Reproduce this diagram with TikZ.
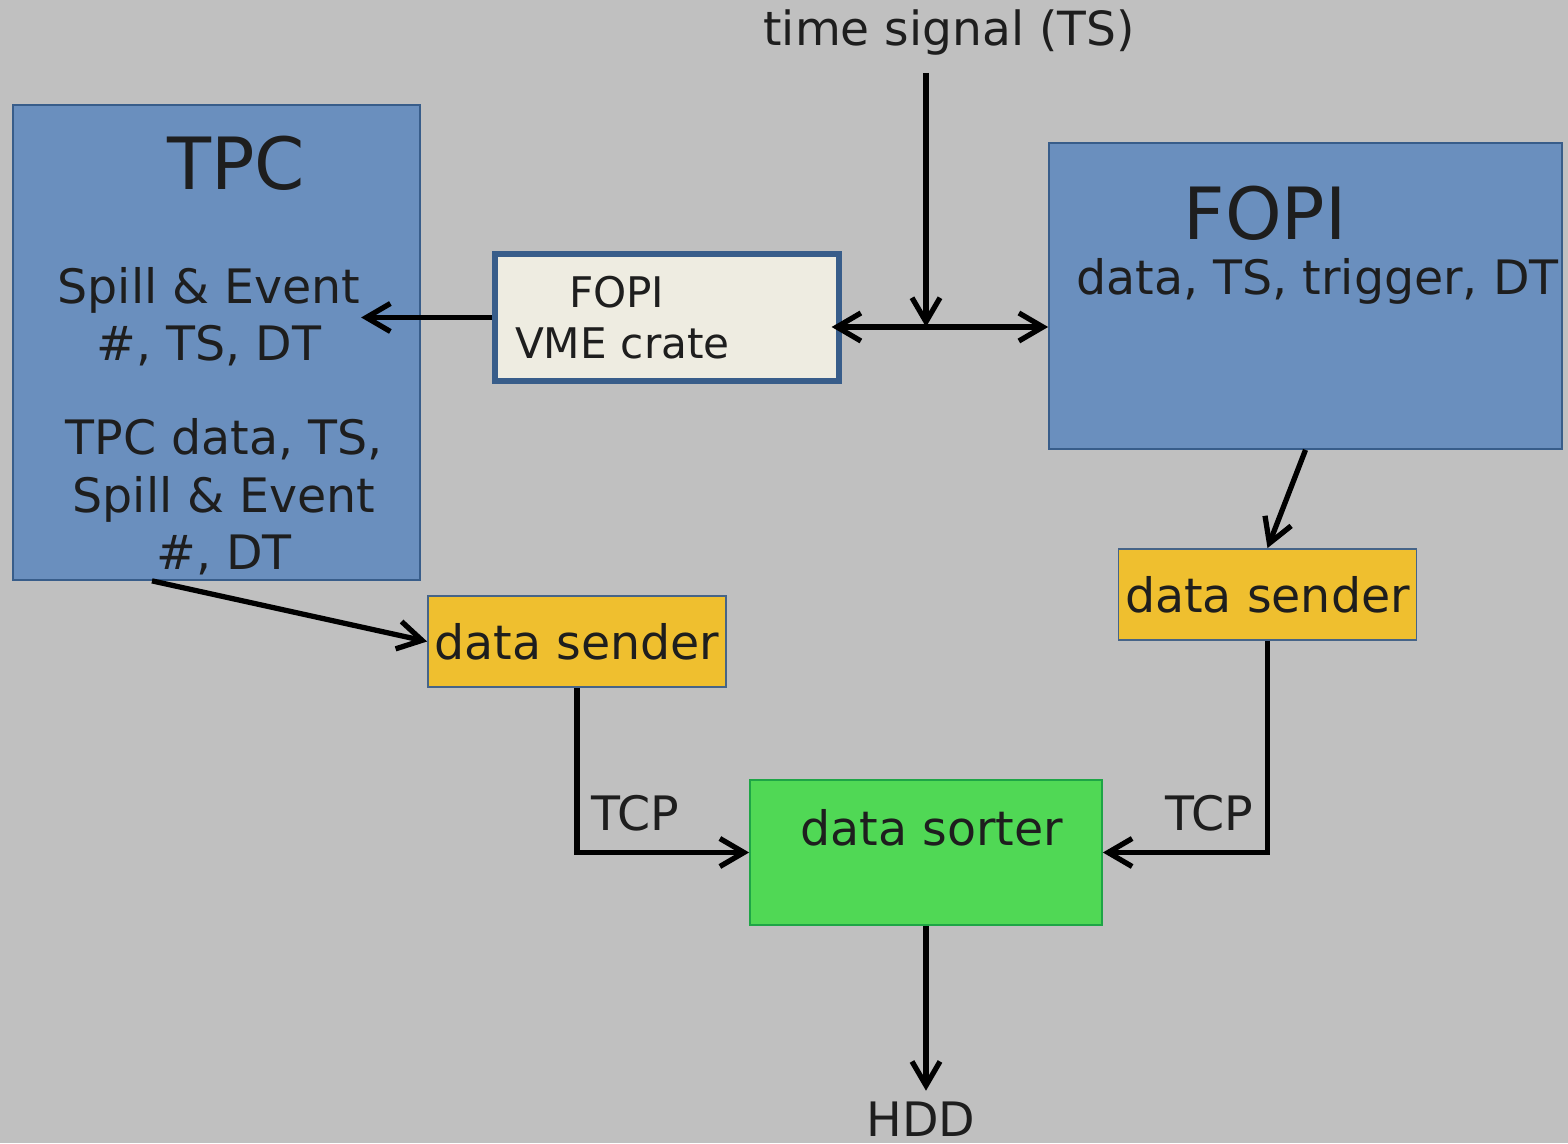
\documentclass[tikz,border=0pt]{standalone}
\usepackage{fontspec}
\setmainfont{DejaVu Sans}
\usepackage{tikz}
\usetikzlibrary{arrows.meta}
\usetikzlibrary{positioning}
\definecolor{bggray}{RGB}{192,192,192}
\definecolor{boxblue}{RGB}{106,143,190}
\definecolor{edgeblue}{RGB}{56,93,138}
\definecolor{crate}{RGB}{238,236,225}
\definecolor{sendyellow}{RGB}{239,191,47}
\definecolor{sortgreen}{RGB}{80,216,85}
\definecolor{sortedge}{RGB}{30,165,70}
\definecolor{ink}{RGB}{30,30,30}
\newcommand{\bodysize}{\fontsize{13.5}{16.3}\selectfont}
\newcommand{\titlesize}{\fontsize{20.5}{24}\selectfont}

\begin{document}
\begin{tikzpicture}[>={Straight Barb[length=2.4mm,width=2.8mm]},
  every node/.style={text=ink,font=\bodysize},
  detector/.style={draw=edgeblue,line width=0.5pt,fill=boxblue,inner sep=0pt},
  sender/.style={draw=edgeblue!80!gray,line width=0.5pt,fill=sendyellow,inner sep=0pt,minimum width=2.98cm,minimum height=0.91cm},
  link/.style={line width=1.5pt,->}]
\fill[bggray] (0,0) rectangle (15.68,11.43);
\useasboundingbox (0,0) rectangle (15.68,11.43);
% boxes
\node[detector,minimum width=4.07cm,minimum height=4.75cm] (tpc) at (2.165,8.005) {};
\node[detector,minimum width=5.13cm,minimum height=3.06cm] (fopi) at (13.055,8.47) {};
\node[draw=edgeblue,line width=1.5pt,fill=crate,minimum height=1.27cm,text width=3.04cm,inner xsep=0.2cm,inner ysep=0pt,align=left,font=\fontsize{12}{14.5}\selectfont] (vme) at (6.67,8.255) {\hspace*{0.54cm}FOPI\\VME crate};
\node[sender] (send1) at (5.77,5.015) {data sender};
\node[sender] (send2) at (12.675,5.485) {data sender};
\node[draw=sortedge,line width=0.5pt,fill=sortgreen,minimum width=3.52cm,minimum height=1.45cm] (sorter) at (9.26,2.905) {};
% texts
\node[font=\titlesize,anchor=base] (tpctitle) at (2.36,9.53) {TPC};
\node[align=center,inner sep=0pt] (spill) at (2.09,8.26) {Spill \& Event\\\#, TS, DT};
\node[align=center,inner sep=0pt] (tpcdata) at (2.24,6.46) {TPC data, TS,\\Spill \& Event\\\#, DT};
\node[font=\titlesize,anchor=base] (fopititle) at (12.65,9.03) {FOPI};
\node[anchor=base] (fopidata) at (13.175,8.48) {data, TS, trigger, DT};
\node[anchor=base] (sortlabel) at (9.32,2.98) {data sorter};
\node[font=\fontsize{13.4}{16}\selectfont] (tslabel) at (9.49,11.10) {time signal (TS)};
\node[anchor=base,inner sep=1mm] (hdd) at (9.21,0.07) {HDD};
\coordinate (tstop) at (9.26,10.70);
\coordinate (tsjoin) at (9.26,8.16);
% connectors
\draw[link] (tstop) -- (tsjoin);
\draw[link,<->,shorten <=-1mm] (vme.east |- tsjoin) -- (fopi.west |- tsjoin);
\draw[link] (vme.west) -- (spill.east |- vme.west);
\draw[link] ([xshift=-0.645cm]tpc.south) -- (send1.west);
\draw[link] (fopi.south) -- (send2.north);
\draw[link] (send1.south) |- node[pos=0.5,above right,yshift=0.07cm] (tcpleft) {TCP} (sorter.west);
\draw[link] (send2.south) |- node[pos=0.5,above left,yshift=0.07cm] (tcpright) {TCP} (sorter.east);
\draw[link] (sorter.south) -- (sorter.south |- hdd.north);
\end{tikzpicture}
\end{document}
